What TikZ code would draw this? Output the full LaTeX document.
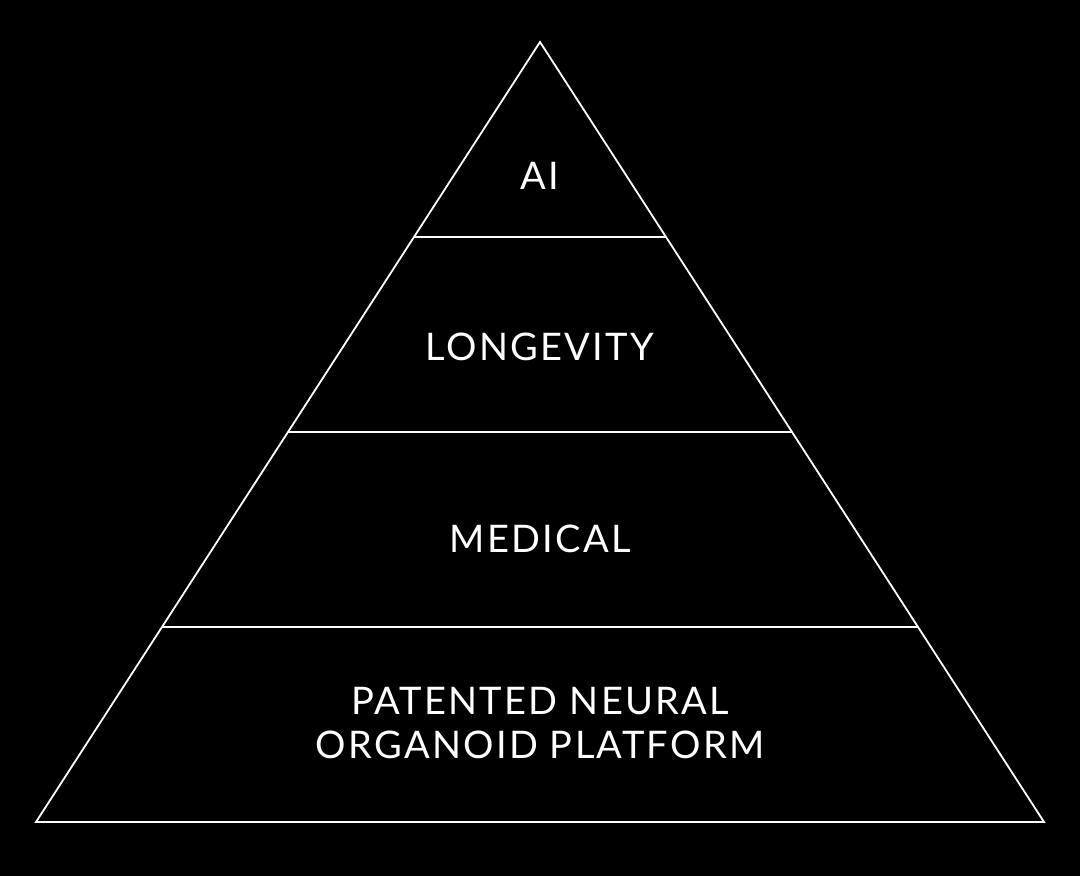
\documentclass[tikz,border=0pt]{standalone}
\usepackage{fontspec}
\setmainfont{Lato}
\newfontfamily\tierfont[LetterSpace=6]{Lato}
\usetikzlibrary{calc}

\begin{document}
\begin{tikzpicture}[x=0.5pt, y=-0.5pt,
    every node/.style={font=\tierfont\fontsize{19}{22}\selectfont,
      text=white, align=center},
    edge/.style={draw=white, line width=0.9pt, line join=miter}]
  \useasboundingbox (0,0) rectangle (1080,876);
  \fill[black] (0,0) rectangle (1080,876);

  \coordinate (T) at (540,42);
  \coordinate (L) at (36,822);
  \coordinate (R) at (1044,822);

  % outline and the three cuts
  \draw[edge] (T) -- (L) -- (R) -- cycle;
  \foreach \f in {0.25,0.5,0.75}
    \draw[edge] ($(T)!\f!(L)$) -- ($(T)!\f!(R)$);

  \node (ai) at (540,176) {AI};
  \node (longevity) at (540,347) {LONGEVITY};
  \node (medical) at (540,539) {MEDICAL};
  \node (platform) at (540,723) {PATENTED NEURAL\\ORGANOID PLATFORM};
\end{tikzpicture}
\end{document}
